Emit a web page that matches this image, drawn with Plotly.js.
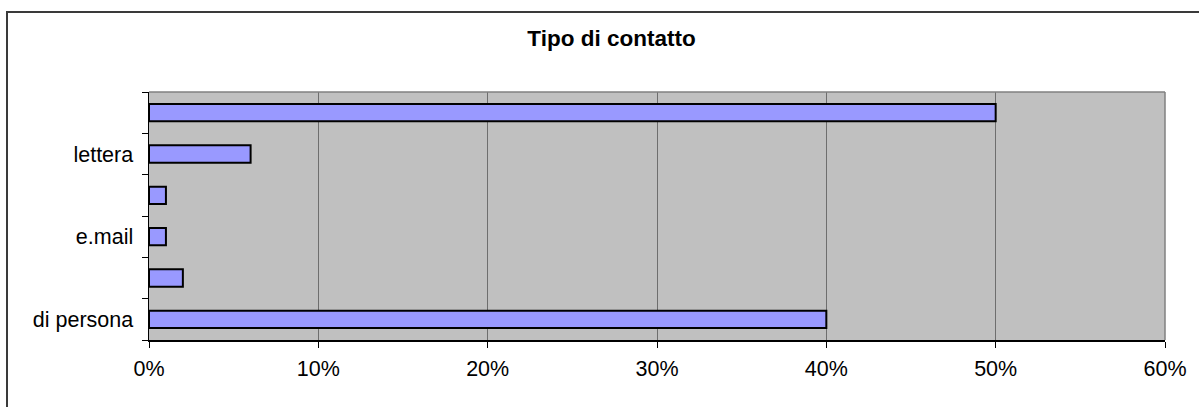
<!DOCTYPE html>
<html>
<head>
<meta charset="utf-8">
<script src="https://cdn.plot.ly/plotly-3.0.1.min.js"></script>
<style>
  html, body { margin: 0; padding: 0; background: #ffffff; overflow: hidden; }
  #wrap { position: relative; width: 1199px; height: 407px; overflow: hidden; }
  #chart { position: absolute; left: 0; top: 0; width: 1199px; height: 407px; }
  /* outer chart frame: only its left and top edges fall inside the view */
  #frame { position: absolute; left: 6px; top: 11px; width: 1400px; height: 600px;
           border-left: 2px solid #3a3a3a; border-top: 2px solid #3a3a3a; pointer-events: none; }
</style>
</head>
<body>
<div id="wrap">
  <div id="chart"></div>
  <div id="frame"></div>
</div>
<script>
// Contact types, listed bottom to top; every other label is left blank
const tickLabels = ["di persona", "", "e.mail", "", "lettera", ""];
// Share of contacts for each type (fraction of total)
const shares = [0.40, 0.02, 0.01, 0.01, 0.06, 0.50];
const positions = tickLabels.map((_, i) => i);

const labelFont = { family: "Liberation Sans, Arial, sans-serif", size: 21.5, color: "#000000" };

const trace = {
  type: "bar",
  orientation: "h",
  x: shares,
  y: positions,
  marker: { color: "#9999ff", line: { color: "#000000", width: 2 } },
  hoverinfo: "skip"
};

const layout = {
  width: 1199,
  height: 407,
  margin: { l: 149, r: 34, t: 92, b: 67, pad: 0 },
  paper_bgcolor: "rgba(0,0,0,0)",
  plot_bgcolor: "#c0c0c0",
  showlegend: false,
  bargap: 0.58,
  title: {
    text: "<b>Tipo di contatto</b>",
    font: { family: "Liberation Sans, Arial, sans-serif", size: 22.5, color: "#000000" },
    xref: "container", x: 0.51, xanchor: "center",
    yref: "container", y: 1 - 38 / 407, yanchor: "middle"
  },
  xaxis: {
    range: [0, 0.6],
    tickmode: "linear", tick0: 0, dtick: 0.1,
    tickformat: ".0%",
    showgrid: true, gridcolor: "#6e6e6e", gridwidth: 1,
    zeroline: false,
    showline: true, linecolor: "#000000", linewidth: 1.5,
    ticks: "outside", ticklen: 6, tickcolor: "#000000", tickwidth: 1,
    ticklabelstandoff: 3,
    tickfont: labelFont,
    fixedrange: true
  },
  yaxis: {
    range: [-0.5, 5.5],
    tickmode: "array",
    tickvals: positions,
    ticktext: tickLabels,
    ticks: "",
    showgrid: false,
    zeroline: false,
    showline: true, linecolor: "#000000", linewidth: 1.5,
    ticklabelstandoff: 10,
    tickfont: labelFont,
    minor: {
      tickmode: "linear", tick0: -0.5, dtick: 1,
      ticks: "outside", ticklen: 6, tickcolor: "#000000", tickwidth: 1,
      showgrid: false
    },
    fixedrange: true
  },
  shapes: [
    // top and right edges of the plot area
    { type: "line", xref: "paper", yref: "paper", x0: 0, x1: 1, y0: 1, y1: 1,
      line: { color: "#808080", width: 1.5 } },
    { type: "line", xref: "paper", yref: "paper", x0: 1, x1: 1, y0: 0, y1: 1,
      line: { color: "#808080", width: 1.5 } }
  ]
};

Plotly.newPlot("chart", [trace], layout, { displayModeBar: false, staticPlot: true });
</script>
</body>
</html>
